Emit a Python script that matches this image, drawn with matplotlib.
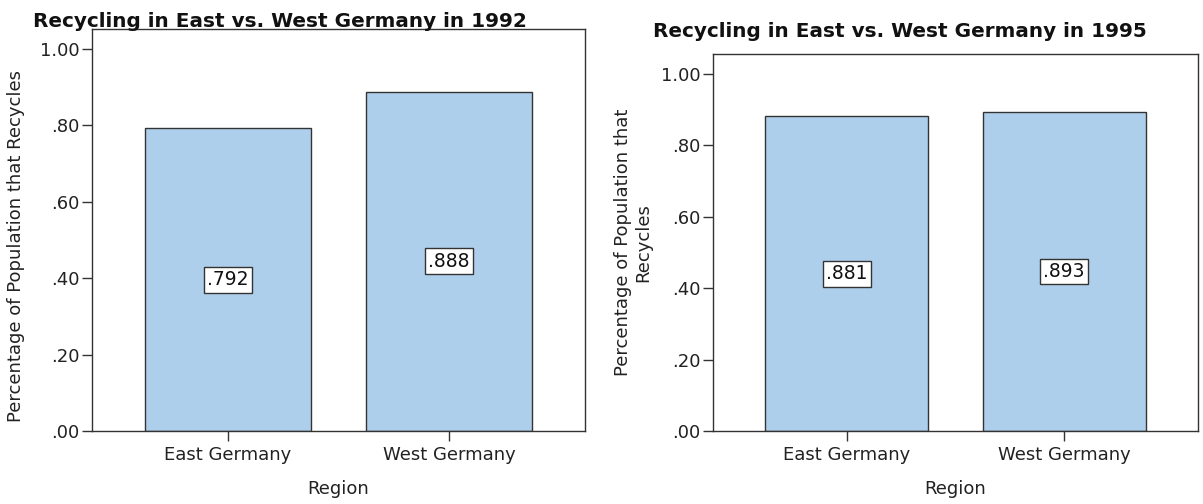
import matplotlib
matplotlib.use("Agg")
import matplotlib.pyplot as plt

regions = ["East Germany", "West Germany"]
values_1992 = [0.792, 0.888]
values_1995 = [0.881, 0.893]
labels_1992 = [".792", ".888"]
labels_1995 = [".881", ".893"]
yticks = [0.0, 0.2, 0.4, 0.6, 0.8, 1.0]
yticklabels = [".00", ".20", ".40", ".60", ".80", "1.00"]

plt.rcParams['font.family'] = ['DejaVu Sans']
BAR = "#AECFEC"
EDGE = "#333333"
W, H = 1203, 504
fig = plt.figure(figsize=(W / 100, H / 100), dpi=100)

def make(ax, vals, labs, title, ylabel, ytop, title_x, title_y, ylab_x):
    x = list(range(len(regions)))
    ax.bar(x, vals, width=0.75, color=BAR, edgecolor=EDGE, linewidth=1.0, zorder=2)
    for xi, v, l in zip(x, vals, labs):
        ax.text(xi, v / 2, l, ha="center", va="center", fontsize=13.5, color="#111111",
                bbox=dict(boxstyle="square,pad=0.18", facecolor="white", edgecolor=EDGE, linewidth=1.0),
                zorder=3)
    ax.set_xlim(-0.615, 1.615)
    ax.set_ylim(0, ytop)
    ax.set_xticks(x)
    ax.set_xticklabels(regions, fontsize=13, color="#222222")
    ax.set_yticks(yticks)
    ax.set_yticklabels(yticklabels, fontsize=13, color="#222222")
    ax.tick_params(direction="out", length=7, width=1, color=EDGE, pad=2)
    ax.tick_params(axis="x", pad=4)
    for s in ax.spines.values():
        s.set_color(EDGE)
        s.set_linewidth(1.0)
    ax.set_ylabel(ylabel, fontsize=13, color="#222222", linespacing=1.15)
    ax.yaxis.set_label_coords(ylab_x[0], ylab_x[1])
    ax.set_xlabel("Region", fontsize=13, color="#222222")
    ax.text(title_x, title_y, title, transform=ax.transAxes, ha="center", va="baseline",
            fontsize=14.4, fontweight="bold", color="#111111")

ax1 = fig.add_axes([92 / W, (H - 431) / H, 493 / W, 402 / H])
make(ax1, values_1992, labels_1992, "Recycling in East vs. West Germany in 1992",
     "Percentage of Population that Recycles", 1.052, 0.381, 1.005, (-0.135, 0.46))
ax1.xaxis.set_label_coords(0.5, (431 - 480) / 402)

ax2 = fig.add_axes([713 / W, (H - 431) / H, 485 / W, 377 / H])
make(ax2, values_1995, labels_1995, "Recycling in East vs. West Germany in 1995",
     "Percentage of Population that\nRecycles", 1.056, 0.386, 1.045, (-0.125, 0.5))
ax2.xaxis.set_label_coords(0.5, (431 - 480) / 377)

fig.savefig("out.png", dpi=100)
